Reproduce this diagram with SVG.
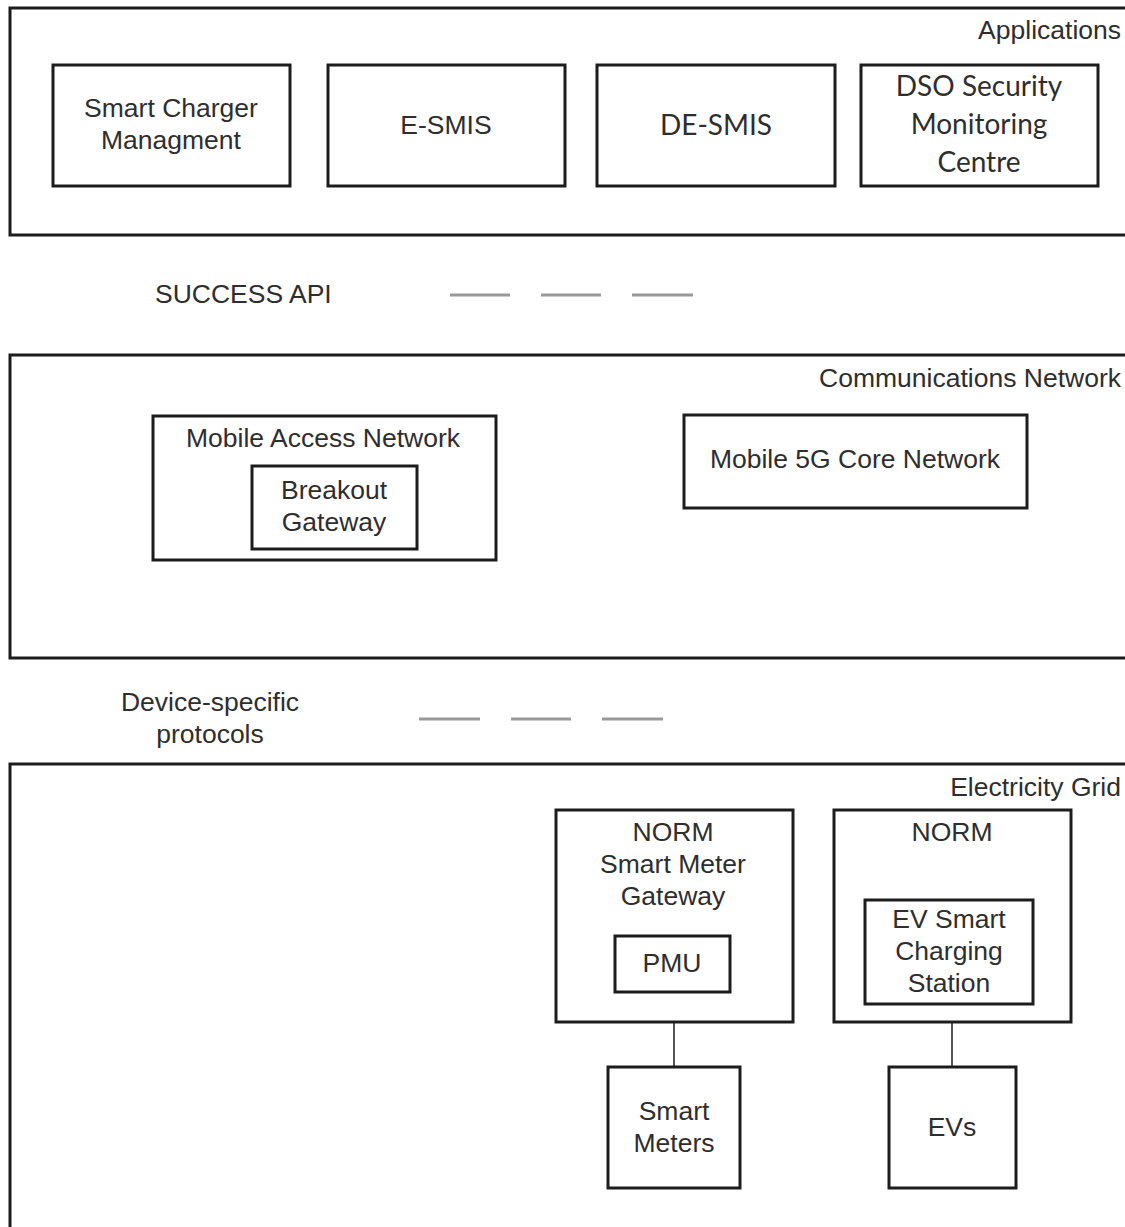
<svg xmlns="http://www.w3.org/2000/svg" width="1125" height="1227" viewBox="0 0 1125 1227">
  <style>
    .box { fill: #ffffff; stroke: #1c1c1c; stroke-width: 3; }
    .t { font-family: "Liberation Sans", Arial, sans-serif; font-size: 26.5px; fill: #2e2e2e; }
    .c { text-anchor: middle; }
    .r { text-anchor: end; }
    .cal { font-family: Lato, "Open Sans", sans-serif; font-size: 28px; fill: #2e2e2e; }
    .dash { stroke: #9a9a9a; stroke-width: 3; }
    .link { stroke: #1c1c1c; stroke-width: 1.5; }
  </style>

  <!-- layer: applications -->
  <g id="applications">
    <rect class="box" x="10" y="8" width="1130" height="227"/>
    <text class="t r" x="1121" y="39">Applications</text>
  </g>
  <g id="smart-charger-management">
    <rect class="box" x="53" y="65" width="237" height="121"/>
    <text class="t c" x="171" y="117">Smart Charger</text>
    <text class="t c" x="171" y="149">Managment</text>
  </g>
  <g id="e-smis">
    <rect class="box" x="328" y="65" width="237" height="121"/>
    <text class="t c" x="446" y="134">E-SMIS</text>
  </g>
  <g id="de-smis">
    <rect class="box" x="597" y="65" width="238" height="121"/>
    <text class="cal c" x="716" y="135">DE-SMIS</text>
  </g>
  <g id="dso-security-monitoring-centre">
    <rect class="box" x="861" y="65" width="237" height="121"/>
    <text class="cal c" x="979" y="96">DSO Security</text>
    <text class="cal c" x="979" y="134">Monitoring</text>
    <text class="cal c" x="979" y="172">Centre</text>
  </g>

  <!-- interface: SUCCESS API -->
  <g id="success-api">
    <text class="t" x="155" y="303">SUCCESS API</text>
    <line class="dash" x1="450" y1="295" x2="510" y2="295"/>
    <line class="dash" x1="541" y1="295" x2="601" y2="295"/>
    <line class="dash" x1="632" y1="295" x2="693" y2="295"/>
  </g>

  <!-- layer: communications network -->
  <g id="communications-network">
    <rect class="box" x="10" y="355" width="1130" height="303"/>
    <text class="t r" x="1121" y="387">Communications Network</text>
  </g>
  <g id="mobile-access-network">
    <rect class="box" x="153" y="416" width="343" height="144"/>
    <text class="t c" x="323" y="447">Mobile Access Network</text>
  </g>
  <g id="breakout-gateway">
    <rect class="box" x="252" y="466" width="165" height="83"/>
    <text class="t c" x="334" y="499">Breakout</text>
    <text class="t c" x="334" y="531">Gateway</text>
  </g>
  <g id="mobile-5g-core-network">
    <rect class="box" x="684" y="415" width="343" height="93"/>
    <text class="t c" x="855" y="468">Mobile 5G Core Network</text>
  </g>

  <!-- interface: device-specific protocols -->
  <g id="device-specific-protocols">
    <text class="t c" x="210" y="711">Device-specific</text>
    <text class="t c" x="210" y="743">protocols</text>
    <line class="dash" x1="419" y1="719" x2="480" y2="719"/>
    <line class="dash" x1="511" y1="719" x2="571" y2="719"/>
    <line class="dash" x1="602" y1="719" x2="663" y2="719"/>
  </g>

  <!-- layer: electricity grid -->
  <g id="electricity-grid">
    <rect class="box" x="10" y="764" width="1130" height="500"/>
    <text class="t r" x="1121" y="796">Electricity Grid</text>
  </g>
  <g id="norm-smart-meter-gateway">
    <rect class="box" x="556" y="810" width="237" height="212"/>
    <text class="t c" x="673" y="841">NORM</text>
    <text class="t c" x="673" y="873">Smart Meter</text>
    <text class="t c" x="673" y="905">Gateway</text>
  </g>
  <g id="pmu">
    <rect class="box" x="615" y="936" width="115" height="56"/>
    <text class="t c" x="672" y="972">PMU</text>
  </g>
  <g id="norm-charging">
    <rect class="box" x="834" y="810" width="237" height="212"/>
    <text class="t c" x="952" y="841">NORM</text>
  </g>
  <g id="ev-smart-charging-station">
    <rect class="box" x="865" y="900" width="168" height="104"/>
    <text class="t c" x="949" y="928">EV Smart</text>
    <text class="t c" x="949" y="960">Charging</text>
    <text class="t c" x="949" y="992">Station</text>
  </g>
  <g id="smart-meters">
    <rect class="box" x="608" y="1067" width="132" height="121"/>
    <text class="t c" x="674" y="1120">Smart</text>
    <text class="t c" x="674" y="1152">Meters</text>
  </g>
  <g id="evs">
    <rect class="box" x="889" y="1067" width="127" height="121"/>
    <text class="t c" x="952" y="1136">EVs</text>
  </g>

  <!-- connectors -->
  <g id="connectors">
    <line class="link" x1="674" y1="1022" x2="674" y2="1067"/>
    <line class="link" x1="952" y1="1022" x2="952" y2="1067"/>
  </g>
</svg>
